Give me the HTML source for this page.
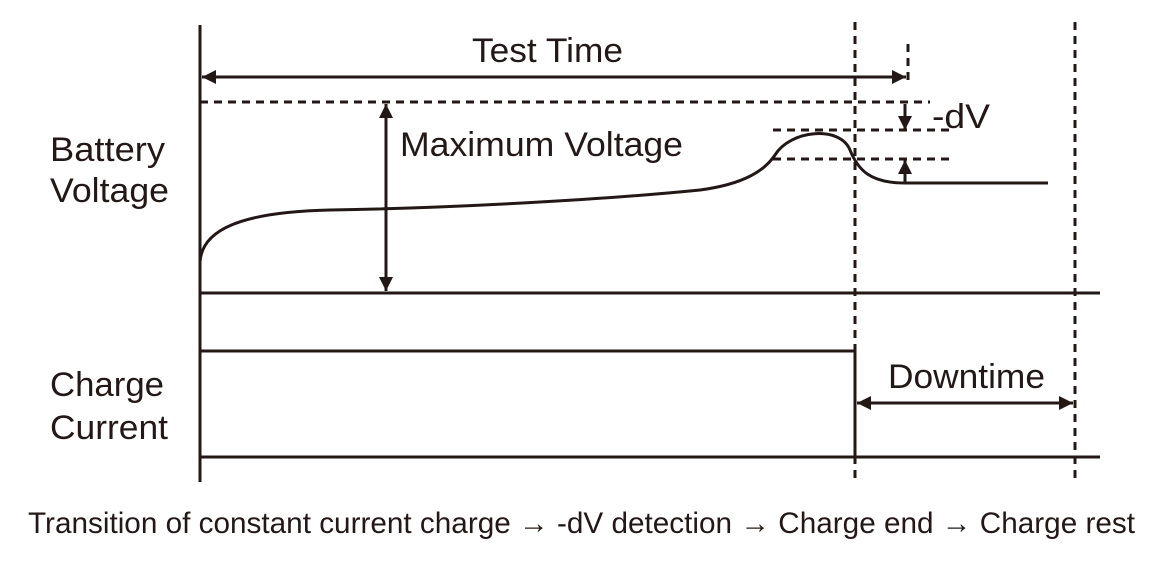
<!DOCTYPE html>
<html><head><meta charset="utf-8"><style>html,body{margin:0;padding:0;background:#fff}svg{display:block}</style></head>
<body>
<svg width="1160" height="572" viewBox="0 0 1160 572" xmlns="http://www.w3.org/2000/svg" font-family="Liberation Sans, sans-serif" fill="#231815">
<defs>
<marker id="a" viewBox="0 0 10 10" refX="10" refY="5" markerWidth="20" markerHeight="14" markerUnits="userSpaceOnUse" orient="auto-start-reverse"><path d="M0,0 L10,5 L0,10 z" fill="#231815"/></marker>
</defs>
<g stroke="#231815" stroke-width="3" fill="none">
<line x1="200" y1="25" x2="200" y2="482"/>
<line x1="200" y1="293" x2="1100" y2="293"/>
<line x1="200" y1="457" x2="1100" y2="457"/>
<polyline points="200,351 855,351 855,457"/>
<line x1="202" y1="77" x2="906" y2="77" marker-start="url(#a)" marker-end="url(#a)"/>
<line x1="386" y1="104" x2="386" y2="291" marker-start="url(#a)" marker-end="url(#a)"/>
<line x1="857" y1="403" x2="1073" y2="403" marker-start="url(#a)" marker-end="url(#a)"/>
<line x1="905" y1="104" x2="905" y2="130" marker-end="url(#a)"/>
<line x1="905" y1="183" x2="905" y2="160" marker-end="url(#a)"/>
<path d="M200,262 C202,230 240,212 330,210 C450,208 600,200 700,190 C745,184 765,170 775,155 C790,130 840,125 850,150 C858,170 870,183 905,183 L1048,183"/>
</g>
<g stroke="#231815" stroke-width="3" stroke-dasharray="8,6" fill="none">
<line x1="200" y1="102" x2="930" y2="102"/>
<line x1="773" y1="130" x2="952" y2="130"/>
<line x1="773" y1="159" x2="952" y2="159"/>
<line x1="855" y1="22" x2="855" y2="478"/>
<line x1="1075" y1="22" x2="1075" y2="478"/>
<line x1="908" y1="44" x2="908" y2="86"/>
</g>
<g font-size="34">
<text x="472" y="62" textLength="151" lengthAdjust="spacingAndGlyphs">Test Time</text>
<text x="400" y="156" textLength="283" lengthAdjust="spacingAndGlyphs">Maximum Voltage</text>
<text x="932" y="128" textLength="58" lengthAdjust="spacingAndGlyphs">-dV</text>
<text x="50" y="161" textLength="115" lengthAdjust="spacingAndGlyphs">Battery</text>
<text x="50" y="202" textLength="119" lengthAdjust="spacingAndGlyphs">Voltage</text>
<text x="50" y="396" textLength="114" lengthAdjust="spacingAndGlyphs">Charge</text>
<text x="50" y="439" textLength="118" lengthAdjust="spacingAndGlyphs">Current</text>
<text x="888" y="388" textLength="157" lengthAdjust="spacingAndGlyphs">Downtime</text>
</g>
<text x="28" y="533" font-size="30" textLength="1107" lengthAdjust="spacingAndGlyphs">Transition of constant current charge → -dV detection → Charge end → Charge rest</text>
</svg>
</body></html>
